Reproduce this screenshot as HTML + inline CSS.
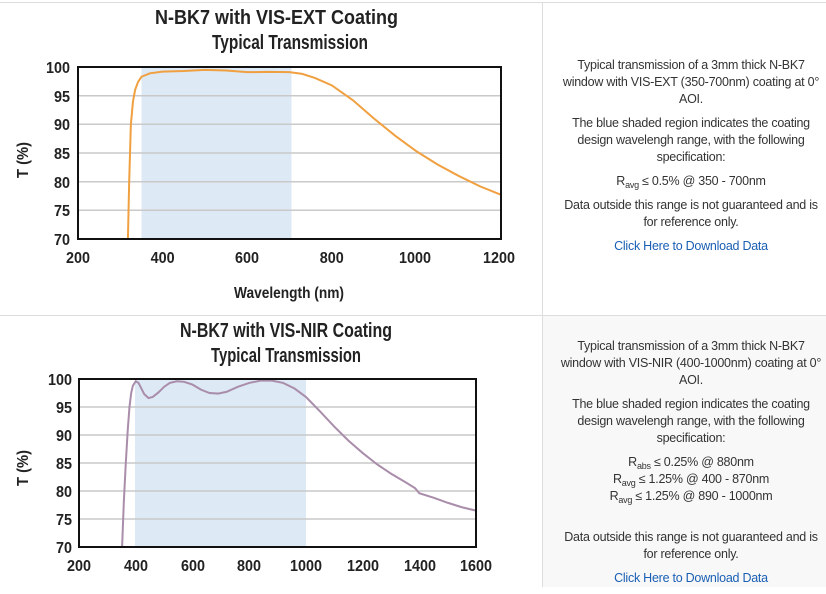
<!DOCTYPE html>
<html><head><meta charset="utf-8"><style>
body{margin:0;width:826px;height:587px;background:#fff;position:relative;overflow:hidden;font-family:"Liberation Sans",sans-serif}
.tx{position:absolute;left:491px;width:400px;text-align:center;font-size:12.5px;color:#333;line-height:17px;white-space:nowrap;letter-spacing:-0.25px}
.tx p{margin:0 0 7px 0}
.tx a{color:#1a5fb4;text-decoration:none}
sub{font-size:9px;vertical-align:-3px;line-height:0}
</style></head><body>
<div style="position:absolute;left:0;top:2px;width:826px;height:1px;background:#ddd"></div>
<div style="position:absolute;left:542px;top:2px;width:1px;height:585px;background:#ddd"></div>
<div style="position:absolute;left:0;top:315px;width:826px;height:1px;background:#ddd"></div>
<div style="position:absolute;left:543px;top:316px;width:283px;height:271px;background:#f8f8f8"></div>
<svg width="542" height="587" style="position:absolute;left:0;top:0" font-family="'Liberation Sans',sans-serif" font-weight="bold" fill="#222">
<!-- chart 1 -->
<text x="277" y="24" font-size="20" textLength="243" lengthAdjust="spacingAndGlyphs" text-anchor="start" transform="translate(-122,0)">N-BK7 with VIS-EXT Coating</text>
<text x="212" y="49" font-size="20" textLength="156" lengthAdjust="spacingAndGlyphs">Typical Transmission</text>
<rect x="141.5" y="67" width="150" height="172" fill="#dde9f5"/>
<g stroke="#c9c9c9" stroke-width="1.5">
<line x1="78" x2="501" y1="95.7" y2="95.7"/><line x1="78" x2="501" y1="124.3" y2="124.3"/><line x1="78" x2="501" y1="153" y2="153"/><line x1="78" x2="501" y1="181.7" y2="181.7"/><line x1="78" x2="501" y1="210.3" y2="210.3"/></g>
<g transform="translate(78,239) scale(0.423,-5.733) translate(-200,-70)">
<path vector-effect="non-scaling-stroke" fill="none" stroke="#f0a040" stroke-width="2" d="M318,70 L321,80 L325,90 L330,94 L335,96 L342,97.4 L350,98.3 L370,98.9 L400,99.2 L450,99.3 L500,99.5 L550,99.4 L600,99.1 L650,99.15 L700,99.1 L730,98.8 L760,98.1 L800,96.8 L850,94.2 L900,91 L950,88 L1000,85.3 L1050,83 L1100,81 L1150,79.2 L1200,77.7"/></g>
<rect x="78" y="67" width="423" height="172" fill="none" stroke="#111" stroke-width="2"/>
<g font-size="16">
<text x="46" y="73" textLength="24" lengthAdjust="spacingAndGlyphs">100</text><text x="54" y="102" textLength="16" lengthAdjust="spacingAndGlyphs">95</text><text x="54" y="130" textLength="16" lengthAdjust="spacingAndGlyphs">90</text><text x="54" y="159" textLength="16" lengthAdjust="spacingAndGlyphs">85</text><text x="54" y="188" textLength="16" lengthAdjust="spacingAndGlyphs">80</text><text x="54" y="216" textLength="16" lengthAdjust="spacingAndGlyphs">75</text><text x="54" y="245" textLength="16" lengthAdjust="spacingAndGlyphs">70</text>
<text x="66" y="263" textLength="24" lengthAdjust="spacingAndGlyphs">200</text><text x="150.6" y="263" textLength="24" lengthAdjust="spacingAndGlyphs">400</text><text x="235" y="263" textLength="24" lengthAdjust="spacingAndGlyphs">600</text><text x="319.8" y="263" textLength="24" lengthAdjust="spacingAndGlyphs">800</text><text x="399" y="263" textLength="32" lengthAdjust="spacingAndGlyphs">1000</text><text x="483" y="263" textLength="32" lengthAdjust="spacingAndGlyphs">1200</text>
<text x="234" y="298" textLength="110" lengthAdjust="spacingAndGlyphs">Wavelength (nm)</text>
<text transform="translate(28,178) rotate(-90)" textLength="36" lengthAdjust="spacingAndGlyphs">T (%)</text>
</g>
<!-- chart 2 -->
<text x="180" y="337" font-size="20" textLength="212" lengthAdjust="spacingAndGlyphs">N-BK7 with VIS-NIR Coating</text>
<text x="211" y="362" font-size="20" textLength="150" lengthAdjust="spacingAndGlyphs">Typical Transmission</text>
<rect x="135" y="379" width="171" height="168" fill="#dde9f5"/>
<g stroke="#c9c9c9" stroke-width="1.5">
<line x1="79" x2="476" y1="407" y2="407"/><line x1="79" x2="476" y1="435" y2="435"/><line x1="79" x2="476" y1="463" y2="463"/><line x1="79" x2="476" y1="491" y2="491"/><line x1="79" x2="476" y1="519" y2="519"/></g>
<g transform="translate(79,547) scale(0.2836,-5.6) translate(-200,-70)">
<path vector-effect="non-scaling-stroke" fill="none" stroke="#a98daa" stroke-width="2" d="M352,70 L358,78 L365,85 L372,91 L378,95 L384,97.5 L390,98.8 L400,99.6 L410,99.3 L420,98.3 L430,97.3 L445,96.6 L460,96.8 L480,97.6 L500,98.6 L520,99.3 L545,99.6 L570,99.5 L600,99 L630,98.1 L660,97.5 L690,97.4 L720,97.7 L760,98.6 L800,99.3 L840,99.7 L880,99.7 L920,99.3 L960,98.3 L1000,96.8 L1050,94.2 L1100,91.5 L1150,89 L1200,86.8 L1250,84.8 L1300,83.1 L1350,81.6 L1385,80.5 L1400,79.6 L1450,78.8 L1500,77.9 L1550,77.1 L1600,76.5"/></g>
<rect x="79" y="379" width="397" height="168" fill="none" stroke="#111" stroke-width="2"/>
<g font-size="16">
<text x="48" y="385" textLength="24" lengthAdjust="spacingAndGlyphs">100</text><text x="56" y="413" textLength="16" lengthAdjust="spacingAndGlyphs">95</text><text x="56" y="441" textLength="16" lengthAdjust="spacingAndGlyphs">90</text><text x="56" y="469" textLength="16" lengthAdjust="spacingAndGlyphs">85</text><text x="56" y="497" textLength="16" lengthAdjust="spacingAndGlyphs">80</text><text x="56" y="525" textLength="16" lengthAdjust="spacingAndGlyphs">75</text><text x="56" y="553" textLength="16" lengthAdjust="spacingAndGlyphs">70</text>
<text x="67" y="571" textLength="24" lengthAdjust="spacingAndGlyphs">200</text><text x="124" y="571" textLength="24" lengthAdjust="spacingAndGlyphs">400</text><text x="181" y="571" textLength="24" lengthAdjust="spacingAndGlyphs">600</text><text x="237" y="571" textLength="24" lengthAdjust="spacingAndGlyphs">800</text><text x="290" y="571" textLength="32" lengthAdjust="spacingAndGlyphs">1000</text><text x="347" y="571" textLength="32" lengthAdjust="spacingAndGlyphs">1200</text><text x="404" y="571" textLength="32" lengthAdjust="spacingAndGlyphs">1400</text><text x="460" y="571" textLength="32" lengthAdjust="spacingAndGlyphs">1600</text>
<text transform="translate(28,486) rotate(-90)" textLength="36" lengthAdjust="spacingAndGlyphs">T (%)</text>
</g>
</svg>
<div class="tx" style="top:57px">
<p>Typical transmission of a 3mm thick N-BK7<br>window with VIS-EXT (350-700nm) coating at 0°<br>AOI.</p>
<p>The blue shaded region indicates the coating<br>design wavelengh range, with the following<br>specification:</p>
<p>R<sub>avg</sub> ≤ 0.5% @ 350 - 700nm</p>
<p>Data outside this range is not guaranteed and is<br>for reference only.</p>
<p><a>Click Here to Download Data</a></p>
</div>
<div class="tx" style="top:338px">
<p>Typical transmission of a 3mm thick N-BK7<br>window with VIS-NIR (400-1000nm) coating at 0°<br>AOI.</p>
<p>The blue shaded region indicates the coating<br>design wavelengh range, with the following<br>specification:</p>
<p style="margin-bottom:24px">R<sub>abs</sub> ≤ 0.25% @ 880nm<br>R<sub>avg</sub> ≤ 1.25% @ 400 - 870nm<br>R<sub>avg</sub> ≤ 1.25% @ 890 - 1000nm</p>
<p>Data outside this range is not guaranteed and is<br>for reference only.</p>
<p><a>Click Here to Download Data</a></p>
</div>
</body></html>
